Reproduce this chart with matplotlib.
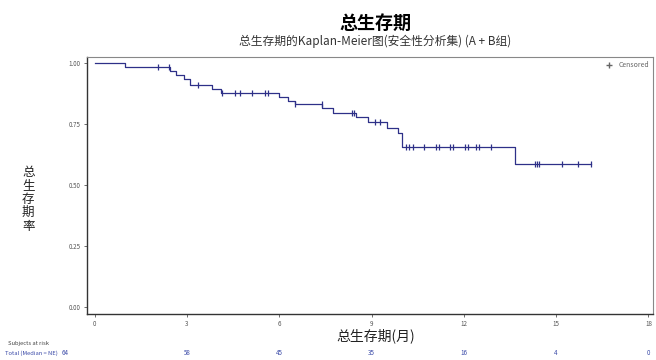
import matplotlib
matplotlib.use("Agg")
import matplotlib.pyplot as plt
import matplotlib.transforms as mtransforms
import numpy as np

plt.rcParams['font.family'] = ['Noto Sans CJK SC', 'DejaVu Sans']

# Kaplan-Meier steps (time in months, survival after the step)
event_t = [0.0, 1.0, 2.45, 2.65, 2.9, 3.1, 3.8, 4.1, 6.0, 6.3, 6.5, 7.4, 7.75, 8.5, 8.9, 9.5, 9.85, 10.0, 13.65]
event_s = [1.0, 0.984, 0.969, 0.953, 0.935, 0.91, 0.893, 0.877, 0.862, 0.845, 0.832, 0.815, 0.795, 0.778, 0.76, 0.735, 0.713, 0.655, 0.587]
last_t = 16.15

censor_t = [2.05, 2.4, 3.35, 4.15, 4.55, 4.72, 5.1, 5.53, 5.63, 6.5, 7.38, 8.35, 8.42,
            9.1, 9.27, 10.12, 10.22, 10.35, 10.7, 11.1, 11.2, 11.55, 11.65, 12.05, 12.15,
            12.4, 12.5, 12.9, 14.3, 14.38, 14.45, 15.2, 15.7, 16.15]

risk_t = [0, 3, 6, 9, 12, 15, 18]
risk_n = [64, 58, 45, 35, 16, 4, 0]

xticks = [0, 3, 6, 9, 12, 15, 18]
yticks = [0.0, 0.25, 0.5, 0.75, 1.0]

line_c = '#2e3088'
risk_c = '#3a4aa8'

fig = plt.figure(figsize=(6.56, 3.6), dpi=100)
ax = fig.add_axes([0.1326, 0.1278, 0.8628, 0.7139])

st = event_t + [last_t]
ss = event_s + [event_s[-1]]
ax.step(st, ss, where='post', color=line_c, lw=0.9)

# censor marks sit on the curve
idx = np.searchsorted(event_t, censor_t, side='right') - 1
cs = [event_s[i] for i in idx]
ax.plot(censor_t, cs, linestyle='none', marker='|', markersize=5, mew=0.9, color=line_c)

ax.set_xlim(-0.25, 18.15)
ax.set_ylim(-0.03, 1.025)
ax.set_xticks(xticks)
ax.set_xticklabels([str(v) for v in xticks])
ax.set_yticks(yticks)
ax.set_yticklabels(['%.2f' % v for v in yticks])
ax.tick_params(labelsize=4.5, length=2.5, width=0.6, colors='#555555', pad=2)

for s in ['top', 'right']:
    ax.spines[s].set_color('#888888')
    ax.spines[s].set_linewidth(0.8)
for s in ['left', 'bottom']:
    ax.spines[s].set_color('#333333')
    ax.spines[s].set_linewidth(1.0)

# legend entry
ax.plot([], [], linestyle='none', marker='+', markersize=5, color='#666666', label='Censored')
ax.legend(loc='upper right', fontsize=5, frameon=False, handletextpad=0.3,
          borderaxespad=0.2, labelcolor='#666666')

fig.text(0.572, 0.935, '总生存期', ha='center', va='center', fontsize=13, fontweight='bold')
fig.text(0.572, 0.885, '总生存期的Kaplan-Meier图(安全性分析集) (A + B组)',
         ha='center', va='center', fontsize=8.5, color='#333333')

fig.text(0.043, 0.447, '\n'.join('总生存期率'), ha='center', va='center', fontsize=9,
         linespacing=1.05, color='#222222')
fig.text(0.572, 0.067, '总生存期(月)', ha='center', va='center', fontsize=10, color='#222222')

# numbers at risk
trans = mtransforms.blended_transform_factory(ax.transData, fig.transFigure)
fig.text(0.012, 0.045, 'Subjects at risk', ha='left', va='center', fontsize=4.2, color='#444444')
fig.text(0.008, 0.019, 'Total (Median = NE)', ha='left', va='center', fontsize=4.2, color=risk_c)
for t, n in zip(risk_t, risk_n):
    x = -0.95 if t == 0 else t
    ax.text(x, 0.019, str(n), transform=trans, ha='center', va='center',
            fontsize=4.5, color=risk_c)

fig.savefig('out.png', dpi=100)
